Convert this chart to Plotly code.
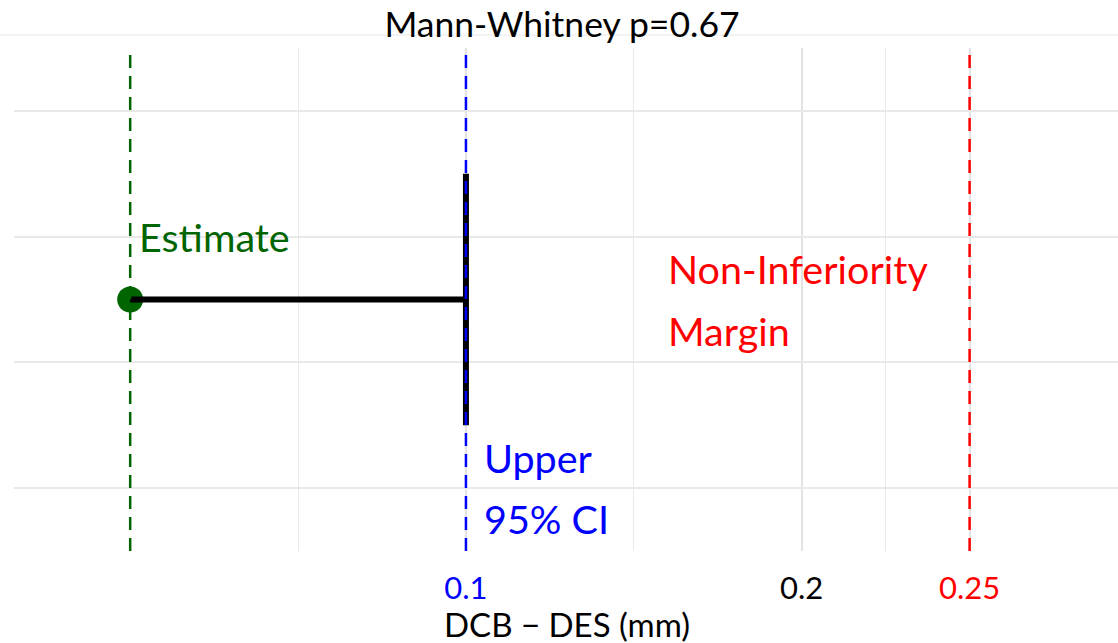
import plotly.graph_objects as go

# ---- data ----
estimate = 0.0
ci_upper = 0.1
margin_value = 0.25
bar_y = 0.0
bar_half = 1.0
x_tick_vals = [0.1, 0.2, 0.25]
x_tick_labels = ["0.1", "0.2", "0.25"]
x_tick_colors = ["#0000FF", "#000000", "#FF0000"]
x_minor_vals = [0.05, 0.15, 0.225]
y_grid_vals = [-1.5, -0.5, 0.5, 1.5]
title_text = "Mann-Whitney p=0.67"
x_title = "DCB − DES (mm)"

GREEN = "#006400"
BLUE = "#0000FF"
RED = "#FF0000"
FONT = "Lato"

W, H = 1118, 643
L, T, B = 14, 48, 91.5
PW, PH = W - L, H - T - B

fig = go.Figure()

fig.add_trace(go.Scatter(x=[estimate], y=[bar_y], mode="markers",
                         marker=dict(color=GREEN, size=26), hoverinfo="skip"))
fig.add_trace(go.Scatter(x=[estimate, ci_upper], y=[bar_y, bar_y], mode="lines",
                         line=dict(color="black", width=6), hoverinfo="skip"))
fig.add_trace(go.Scatter(x=[ci_upper, ci_upper], y=[bar_y - bar_half, bar_y + bar_half],
                         mode="lines", line=dict(color="black", width=6), hoverinfo="skip"))
for v, c in [(estimate, GREEN), (ci_upper, BLUE), (margin_value, RED)]:
    fig.add_trace(go.Scatter(x=[v, v], y=[-2, 2], mode="lines",
                             line=dict(color=c, width=2.5, dash="13px,8px"),
                             hoverinfo="skip"))

ticktext = [f'<span style="color:{c}">{t}</span>' for t, c in zip(x_tick_labels, x_tick_colors)]

fig.update_layout(
    width=W, height=H,
    margin=dict(l=L, r=0, t=T, b=B),
    paper_bgcolor="white", plot_bgcolor="white",
    showlegend=False,
    font=dict(family=FONT, color="black"),
    xaxis=dict(range=[-0.0346, 0.2942], tickvals=x_tick_vals, ticktext=ticktext,
               showgrid=True, gridcolor="#E3E3E3", gridwidth=2.4,
               minor=dict(tickvals=x_minor_vals, showgrid=True, gridcolor="#E9E9E9", gridwidth=1.4),
               zeroline=False, showline=False, ticks="",
               tickfont=dict(size=31, family=FONT), ticklabelstandoff=16),
    yaxis=dict(range=[-2, 2], tickvals=y_grid_vals, showticklabels=False,
               showgrid=True, gridcolor="#E9E9E9", gridwidth=1.5,
               zeroline=False, showline=False, ticks=""),
    title=dict(text=title_text, x=562 / W, xref="container", xanchor="center",
               y=1 - 25 / H, yref="container", yanchor="middle",
               font=dict(size=35.5, family=FONT, color="black")),
)

fig.add_shape(type="line", xref="paper", yref="paper", x0=-L / PW, x1=1,
              y0=1 + 13 / PH, y1=1 + 13 / PH,
              line=dict(color="#E8E8E8", width=1))

ann = [
    dict(x=0.0020, y=0.5, text="Estimate", color=GREEN),
    dict(x=0.1597, y=0.25, text="Non-Inferiority", color=RED),
    dict(x=0.1597, y=-0.245, text="Margin", color=RED),
    dict(x=0.1048, y=-1.26, text="Upper", color=BLUE),
    dict(x=0.1048, y=-1.74, text="95% CI", color=BLUE),
]
annotations = [dict(x=a["x"], y=a["y"], text=a["text"], xref="x", yref="y",
                    xanchor="left", yanchor="middle", showarrow=False,
                    font=dict(size=39.5, color=a["color"], family=FONT)) for a in ann]
annotations.append(dict(x=(567 - L) / PW, y=-(625 - (T + PH)) / PH, text=x_title,
                        xref="paper", yref="paper", xanchor="center", yanchor="middle",
                        showarrow=False, font=dict(size=33, color="black", family=FONT)))
fig.update_layout(annotations=annotations)

fig.write_html("out.html", config={"displayModeBar": False},
               post_script="document.body.style.margin='0px';")
